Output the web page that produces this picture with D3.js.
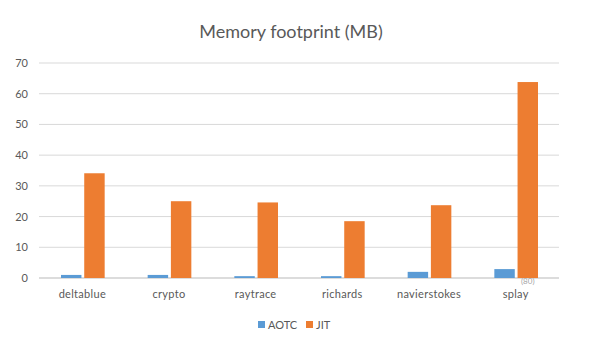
<!DOCTYPE html>
<html>
<head>
<meta charset="utf-8">
<script src="https://cdn.jsdelivr.net/npm/d3@7"></script>
<style>
  body { margin: 0; background: #fff; }
  text { font-family: Lato, "Open Sans", sans-serif; fill: #595959; }
</style>
</head>
<body>
<svg></svg>
<script>
const width = 598;
const height = 345;

// data
const benchmarks = ["deltablue", "crypto", "raytrace", "richards", "navierstokes", "splay"];
const series = ["AOTC", "JIT"];
const aotc = [1.0, 1.0, 0.6, 0.6, 2.0, 2.9];
const jit = [34.1, 25.0, 24.6, 18.5, 23.7, 63.8];
const yTicks = [0, 10, 20, 30, 40, 50, 60, 70];
const colors = ["#5B9BD5", "#ED7D31"];

const svg = d3.select("svg").attr("width", width).attr("height", height);

const x = d3.scaleBand().domain(benchmarks).range([39, 559]);
const inner = d3.scaleBand().domain(series).range([22, x.bandwidth() - 21]).paddingInner(0.12);
const y = d3.scaleLinear().domain([0, 70]).range([278, 63]);

// title
svg.append("text")
  .attr("x", 291).attr("y", 38)
  .attr("text-anchor", "middle")
  .style("font-size", "18px")
  .text("Memory footprint (MB)");

// gridlines
svg.append("g")
  .selectAll("line")
  .data(yTicks)
  .join("line")
  .attr("x1", 39).attr("x2", 559)
  .attr("y1", d => y(d)).attr("y2", d => y(d))
  .attr("stroke", d => d === 0 ? "#d0d0d0" : "#d9d9d9")
  .attr("stroke-width", d => d === 0 ? 1.5 : 1);

// y tick labels
svg.append("g")
  .selectAll("text")
  .data(yTicks)
  .join("text")
  .attr("x", 28).attr("y", d => y(d) + 4)
  .attr("text-anchor", "end")
  .style("font-size", "11px")
  .text(d => d);

// bars
const rows = benchmarks.map((b, i) => ({ name: b, values: [aotc[i], jit[i]] }));
const groups = svg.append("g")
  .selectAll("g")
  .data(rows)
  .join("g")
  .attr("transform", d => `translate(${x(d.name)},0)`);

groups.selectAll("rect")
  .data(d => d.values.map((v, j) => ({ key: series[j], v })))
  .join("rect")
  .attr("x", d => inner(d.key))
  .attr("width", inner.bandwidth())
  .attr("y", d => y(d.v))
  .attr("height", d => y(0) - y(d.v))
  .attr("fill", (d, j) => colors[j]);

// category labels
svg.append("g")
  .selectAll("text")
  .data(benchmarks)
  .join("text")
  .attr("x", d => x(d) + x.bandwidth() / 2)
  .attr("y", 298)
  .attr("text-anchor", "middle")
  .style("font-size", "11px")
  .style("letter-spacing", "0.3px")
  .text(d => d);

// stray label under splay
svg.append("text")
  .attr("x", x("splay") + inner("JIT") + inner.bandwidth() / 2)
  .attr("y", 284)
  .attr("text-anchor", "middle")
  .style("font-size", "8px")
  .style("fill", "#a6a6a6")
  .text("(80)");

// legend
const legend = svg.append("g")
  .selectAll("g")
  .data(series)
  .join("g")
  .attr("transform", (d, i) => `translate(${i === 0 ? 258 : 306},325)`);

legend.append("rect")
  .attr("x", 0).attr("y", -4)
  .attr("width", 7).attr("height", 7)
  .attr("fill", (d, i) => colors[i]);

legend.append("text")
  .attr("x", 10).attr("y", 3.5)
  .style("font-size", "11px")
  .text(d => d);
</script>
</body>
</html>
